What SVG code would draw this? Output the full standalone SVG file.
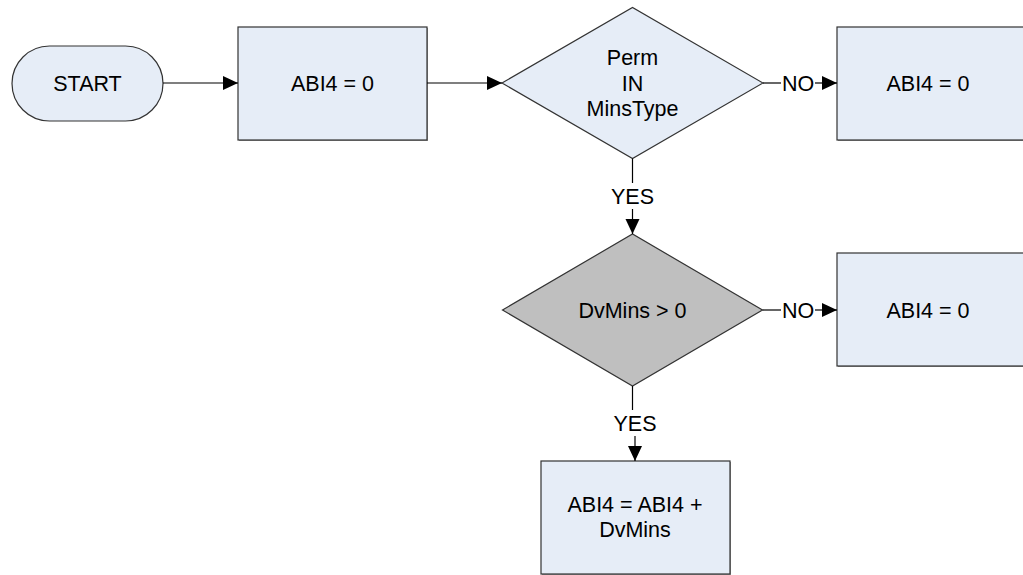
<svg xmlns="http://www.w3.org/2000/svg" width="1023" height="575" viewBox="0 0 1023 575">
  <style>
    .shape { fill: #E6EDF7; stroke: #333333; stroke-width: 1.2; }
    .gray { fill: #BFBFBF; stroke: #333333; stroke-width: 1.2; }
    .shadow { fill: #9a9a9a; }
    text { font-family: "Liberation Sans", Arial, sans-serif; font-size: 21.5px; fill: #000000; text-anchor: middle; }
    .conn { stroke: #000000; stroke-width: 1.2; fill: none; }
  </style>
  <defs>
    <marker id="arrow" markerUnits="userSpaceOnUse" markerWidth="16" markerHeight="15" refX="15" refY="7" orient="auto">
      <path d="M0,0 L15,7 L0,14 Z" fill="#000000"/>
    </marker>
  </defs>
  <rect width="1023" height="575" fill="#ffffff"/>

  <g id="start">
    <rect class="shape" x="12" y="46" width="151" height="75" rx="37.5" ry="37.5"/>
    <text x="87.5" y="91">START</text>
  </g>

  <g id="init">
    <rect class="shadow" x="239" y="28" width="189" height="113"/>
    <rect class="shape" x="238" y="27" width="189" height="113"/>
    <text x="332.5" y="91">ABI4 = 0</text>
  </g>

  <g id="decision1">
    <polygon class="shape" points="502,83 632.5,7.5 763,83 632.5,158.5"/>
    <text x="632.5" y="64.5">Perm</text>
    <text x="632.5" y="90.5">IN</text>
    <text x="632.5" y="116">MinsType</text>
  </g>

  <g id="no1">
    <rect class="shadow" x="838" y="28" width="189" height="113"/>
    <rect class="shape" x="837" y="27" width="189" height="113"/>
    <text x="928" y="91">ABI4 = 0</text>
  </g>

  <g id="decision2">
    <polygon class="gray" points="502.5,310 632.5,234 762.5,310 632.5,386"/>
    <text x="632.5" y="318">DvMins &gt; 0</text>
  </g>

  <g id="no2">
    <rect class="shadow" x="838" y="254" width="189" height="113"/>
    <rect class="shape" x="837" y="253" width="189" height="113"/>
    <text x="928" y="318">ABI4 = 0</text>
  </g>

  <g id="accumulate">
    <rect class="shadow" x="542" y="462" width="189" height="113"/>
    <rect class="shape" x="541" y="461" width="189" height="113"/>
    <text x="635" y="512">ABI4 = ABI4 +</text>
    <text x="635" y="536.5">DvMins</text>
  </g>

  <g id="connectors">
    <line class="conn" x1="163" y1="83" x2="238" y2="83" marker-end="url(#arrow)"/>
    <line class="conn" x1="427" y1="83" x2="502" y2="83" marker-end="url(#arrow)"/>
    <line class="conn" x1="763" y1="83" x2="781" y2="83"/>
    <text x="798" y="91">NO</text>
    <line class="conn" x1="815" y1="83" x2="837" y2="83" marker-end="url(#arrow)"/>
    <line class="conn" x1="632.5" y1="158.5" x2="632.5" y2="183"/>
    <text x="632.5" y="203.5">YES</text>
    <line class="conn" x1="632.5" y1="209" x2="632.5" y2="234" marker-end="url(#arrow)"/>
    <line class="conn" x1="762.5" y1="310" x2="781" y2="310"/>
    <text x="798" y="318">NO</text>
    <line class="conn" x1="815" y1="310" x2="837" y2="310" marker-end="url(#arrow)"/>
    <line class="conn" x1="632.5" y1="386" x2="632.5" y2="410"/>
    <text x="635" y="430.5">YES</text>
    <line class="conn" x1="635" y1="436" x2="635" y2="461" marker-end="url(#arrow)"/>
  </g>
</svg>
